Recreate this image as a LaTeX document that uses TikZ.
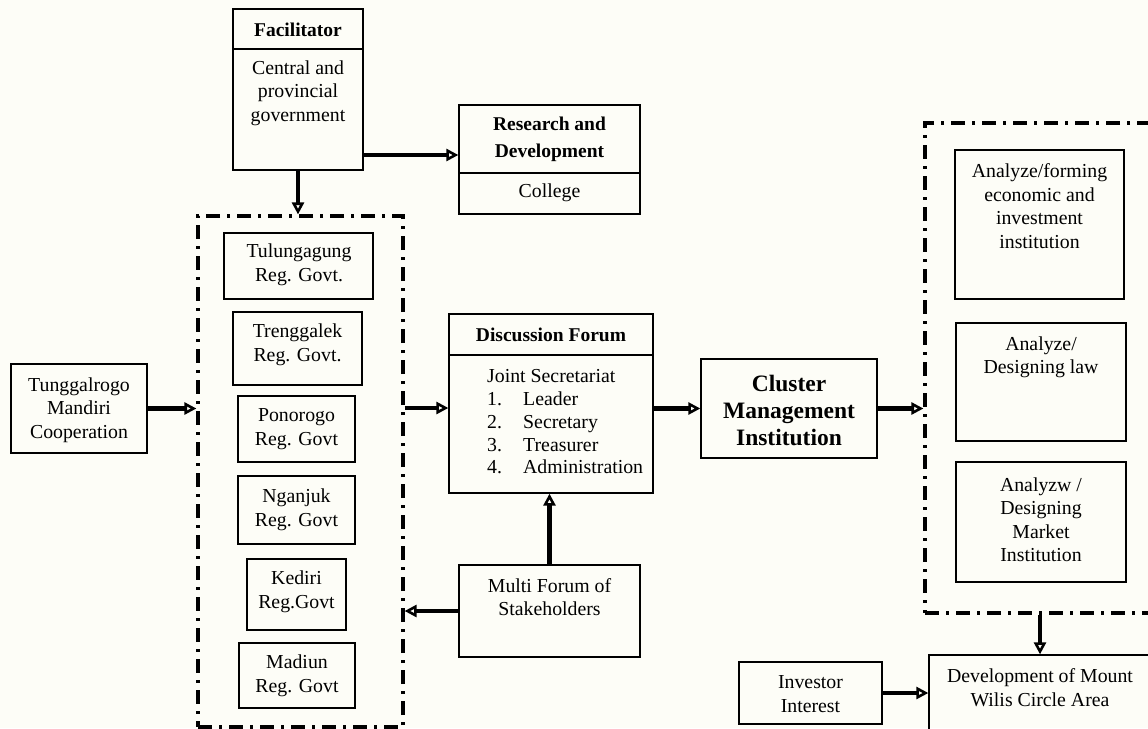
\documentclass[tikz,border=0pt]{standalone}
\usepackage{fontspec}
\setmainfont{Liberation Serif}
\usetikzlibrary{arrows.meta}
\definecolor{bg}{RGB}{253,253,247}
\tikzset{
  box/.style={draw, line width=1.3pt, inner sep=0pt},
  grp/.style={draw, line width=3.2pt, inner sep=0pt, dash pattern=on 14pt off 7pt on 3pt off 7pt},
  txt/.style={align=center, inner sep=0pt, font=\fontsize{19.8}{23.5}\selectfont},
  btxt/.style={align=center, inner sep=0pt, font=\fontsize{19.5}{27}\selectfont\bfseries},
  arr/.style={line width=4.2pt, -{Triangle[open, length=12pt, width=12pt, line width=2.6pt]}},
  divider/.style={line width=1.3pt}
}
\begin{document}
\begin{tikzpicture}[x=1pt, y=-1pt]
\path[use as bounding box, fill=bg] (0,0) rectangle (1148,728);
\clip (0,0) rectangle (1148,728);

% boxes
\node[box, minimum width=130pt, minimum height=161pt] (fac) at (298,89.5) {};
\node[box, minimum width=181pt, minimum height=109pt] (rd) at (549.5,159.5) {};
\node[grp, minimum width=205pt, minimum height=511pt] (grpL) at (300.5,471.5) {};
\node[box, minimum width=149pt, minimum height=66pt] (tul) at (298.5,266) {};
\node[box, minimum width=129pt, minimum height=73pt] (tre) at (297.5,348.5) {};
\node[box, minimum width=117pt, minimum height=66pt] (pon) at (296.5,429) {};
\node[box, minimum width=117pt, minimum height=68pt] (nga) at (296.5,510) {};
\node[box, minimum width=99pt, minimum height=71pt] (ked) at (296.5,594.5) {};
\node[box, minimum width=116pt, minimum height=65pt] (mad) at (297,675.5) {};
\node[box, minimum width=136pt, minimum height=89pt] (tmc) at (79,408.5) {};
\node[box, minimum width=204pt, minimum height=179pt] (df) at (551,403.5) {};
\node[box, minimum width=176pt, minimum height=99pt] (cmi) at (789,408.5) {};
\node[box, minimum width=181pt, minimum height=92pt] (mfs) at (549.5,611) {};
\node[grp, minimum width=240pt, minimum height=490pt] (grpR) at (1045,368) {};
\node[box, minimum width=169pt, minimum height=149pt] (r1) at (1039.5,224.5) {};
\node[box, minimum width=170pt, minimum height=118pt] (r2) at (1041,382) {};
\node[box, minimum width=170pt, minimum height=120pt] (r3) at (1041,522) {};
\node[box, minimum width=143pt, minimum height=62pt] (inv) at (810.5,693) {};
\node[box, minimum width=231pt, minimum height=85pt] (dev) at (1044.5,697.5) {};

% header dividers
\draw[divider] (fac.west |- 0,49) -- (fac.east |- 0,49);
\draw[divider] (rd.west |- 0,173) -- (rd.east |- 0,173);
\draw[divider] (df.west |- 0,355) -- (df.east |- 0,355);

% texts
\node[btxt] (facT) at (298,30) {Facilitator};
\node[txt] (facB) at (298,93) {Central and\\provincial\\government};
\node[btxt] (rdT) at (549.5,139) {Research and\\Development};
\node[txt] (rdB) at (549.5,193) {College};
\node[txt] (tulT) at (299,265) {Tulungagung\\Reg. Govt.};
\node[txt] (treT) at (297.5,345) {Trenggalek\\Reg. Govt.};
\node[txt] (ponT) at (296.5,429) {Ponorogo\\Reg. Govt};
\node[txt] (ngaT) at (296.5,510) {Nganjuk\\Reg. Govt};
\node[txt] (kedT) at (296.5,592) {Kediri\\Reg.Govt};
\node[txt] (madT) at (297,676) {Madiun\\Reg. Govt};
\node[txt] (tmcT) at (79,410) {Tunggalrogo\\Mandiri\\Cooperation};
\node[btxt] (dfT) at (551,335) {Discussion Forum};
\node[txt, align=left, anchor=west, font=\fontsize{19.8}{22.75}\selectfont] (dfB) at (487,422)
  {Joint Secretariat\\\makebox[36pt][l]{1.}Leader\\\makebox[36pt][l]{2.}Secretary\\\makebox[36pt][l]{3.}Treasurer\\\makebox[36pt][l]{4.}Administration};
\node[btxt, font=\fontsize{23.5}{27}\selectfont\bfseries] (cmiT) at (789,410) {Cluster\\Management\\Institution};
\node[txt] (mfsT) at (549.5,597) {Multi Forum of\\Stakeholders};
\node[txt] (r1T) at (1039.5,206) {Analyze/forming\\economic and\\investment\\institution};
\node[txt] (r2T) at (1041,357.5) {Analyze/\\Designing law};
\node[txt] (r3T) at (1041,519.5) {Analyzw /\\Designing\\Market\\Institution};
\node[txt] (invT) at (810.5,694) {Investor\\Interest};
\node[txt] (devT) at (1040,687.5) {Development of Mount\\Wilis Circle Area};

% connectors
\draw[arr] (fac.south) -- (fac.south |- grpL.north);
\draw[arr] (fac.east |- 0,155) -- (rd.west |- 0,155);
\draw[arr] (tmc.east) -- (tmc.east -| grpL.west);
\draw[arr] (grpL.east |- 0,408) -- (df.west |- 0,408);
\draw[arr] (df.east |- cmi.west) -- (cmi.west);
\draw[arr] (cmi.east) -- (cmi.east -| grpR.west);
\draw[arr] (mfs.north) -- (mfs.north |- df.south);
\draw[arr] (mfs.west) -- (mfs.west -| grpL.east);
\draw[arr] (1040,0 |- grpR.south) -- (1040,0 |- dev.north);
\draw[arr] (inv.east) -- (inv.east -| dev.west);
\end{tikzpicture}
\end{document}
